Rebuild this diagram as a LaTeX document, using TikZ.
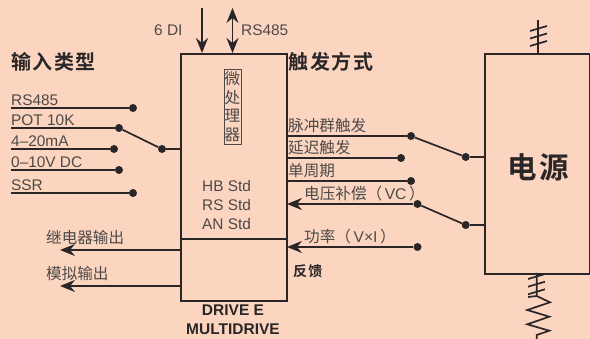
\documentclass[tikz,border=0pt]{standalone}
\usepackage{fontspec}
\setmainfont{Liberation Sans}
\newfontfamily\cjk{Noto Sans CJK SC}
\newfontfamily\cjkb[LetterSpace=8]{Noto Sans CJK SC Bold}
\usetikzlibrary{arrows.meta}
\definecolor{bgc}{HTML}{FBD5C0}
\definecolor{linec}{HTML}{2A2627}
\definecolor{textc}{HTML}{4D4947}
\tikzset{
 x=1pt,y=-1pt,
 wire/.style={draw=linec,line width=1.7pt},
 box/.style={draw=linec,line width=1.8pt,fill=none},
 dotn/.style={circle,fill=linec,inner sep=0pt,minimum size=8pt},
 lab/.style={text=textc,font=\fontsize{15.4}{17}\selectfont,inner sep=0pt,anchor=base west},
 clab/.style={text=textc,font=\fontsize{15.6}{17}\selectfont\cjk,inner sep=0pt,anchor=base west},
 head/.style={text=linec,font=\fontsize{20}{22}\selectfont\cjkb,inner sep=0pt,anchor=base west},
 bold/.style={text=linec,font=\fontsize{15.5}{17}\selectfont\bfseries,inner sep=0pt,anchor=base,align=center},
 arr/.style={wire,-{Stealth[length=15pt,width=12pt,inset=5pt]}},
 darr/.style={wire,{Stealth[length=15pt,width=12pt,inset=5pt]}-{Stealth[length=15pt,width=12pt,inset=5pt]}},
}
\begin{document}
\begin{tikzpicture}
\useasboundingbox[fill=bgc] (0,0) rectangle (590,339);
% blocks
\node[box,inner sep=0pt,anchor=north west,minimum width=106pt,minimum height=185pt] (cpu) at (180,53) {};
\node[box,inner sep=0pt,anchor=north west,minimum width=106pt,minimum height=62pt] (fb) at (180,238) {};
\node[box,inner sep=0pt,anchor=north west,minimum width=105pt,minimum height=220pt] (psu) at (484,53) {};
\node[draw=textc,line width=.7pt,inner sep=0pt,anchor=north west,minimum width=17pt,minimum height=75pt] (mcu) at (224,69.5) {};
\foreach \c [count=\i from 0] in {微,处,理,器}
  \node[clab,anchor=center] (m\i) at (232.5,78.5+18.7*\i) {\c};
% top arrows
\coordinate (diin) at (202,8);
\coordinate (rsin) at (232.5,8);
\coordinate (dic) at (202,53);
\coordinate (rsc) at (232.5,53);
\draw[arr] (diin) -- (dic);
\draw[darr] (rsin) -- (rsc);
\node[lab] (l6di) at (154,36) {6 DI};
\node[lab] (lrs) at (241,36) {RS485};
% headings
\node[head] (hin) at (11,70) {输入类型};
\node[head] (htr) at (288.5,70) {触发方式};
\node[head,font=\fontsize{29.5}{31}\selectfont\cjkb] (hp) at (507,178.5) {电源};
% inputs
\foreach \n/\t/\y/\dx in {a/RS485/108/133,b/POT 10K/128/119,c/4–20mA/149/114,d/0–10V DC/170/119,e/SSR/193/133}{
  \coordinate (s\n) at (11,\y);
  \node[dotn] (d\n) at (\dx,\y) {};
  \draw[wire] (s\n) -- (d\n);
  \node[lab] (l\n) at (11,\y-2.5) {\t};
}
\node[dotn] (sw1) at (162,149) {};
\draw[wire] (db) -- (sw1);
\draw[wire] (sw1) -- (sw1-|cpu.west);
% mode labels
\foreach \t [count=\i from 0] in {HB Std,RS Std,AN Std}
  \node[lab] (st\i) at (202,192+19*\i) {\t};
% outputs
\coordinate (o1) at (60,250);
\coordinate (o2) at (60,286);
\coordinate (oa) at (180,250);
\coordinate (ob) at (180,286);
\draw[arr] (oa) -- (o1);
\draw[arr] (ob) -- (o2);
\node[clab] (lo1) at (46,243.5) {继电器输出};
\node[clab] (lo2) at (46,279.5) {模拟输出};
% triggers
\coordinate (t1) at (286,136);
\coordinate (t2) at (286,158);
\coordinate (t3) at (286,181);
\coordinate (t4) at (287,204);
\coordinate (t5) at (287,247);
\node[dotn] (dt1) at (411,136) {};
\node[dotn] (dt2) at (401,158) {};
\node[dotn] (dt3) at (411,181) {};
\node[dotn] (dt4) at (417.5,204) {};
\node[dotn] (dt5) at (417.5,247) {};
\draw[wire] (t1) -- (dt1);
\draw[wire] (t2) -- (dt2);
\draw[wire] (t3) -- (dt3);
\draw[arr] (dt4) -- (t4);
\draw[arr] (dt5) -- (t5);
\node[clab] (lt1) at (288,131.5) {脉冲群触发};
\node[clab] (lt2) at (288,153.5) {延迟触发};
\node[clab] (lt3) at (288,176.5) {单周期};
\node[clab] (lt4) at (304,199.5) {电压补偿（{\rmfamily\,VC\,}）};
\node[clab] (lt5) at (304,242.5) {功率（{\rmfamily\,V×I\,}）};
\node[dotn] (sw2) at (465.7,157) {};
\node[dotn] (sw3) at (465.7,225) {};
\draw[wire] (dt1) -- (sw2);
\draw[wire] (dt4) -- (sw3);
\draw[wire] (sw2) -- (sw2-|psu.west);
\draw[wire] (sw3) -- (sw3-|psu.west);
% feedback
\node[head,font=\fontsize{14}{16}\selectfont\cjkb] (lfb) at (293,277) {反馈};
% drive name
\node[bold] (dr) at (233,315.5) {DRIVE E};
\node[bold] (mu) at (233,335) {MULTIDRIVE};
% mains top
\coordinate (ptop) at (538,20);
\coordinate (pc) at (538,53);
\draw[wire] (ptop) -- (pc);
\foreach \k/\y in {a/31,b/38.5,c/46}{
  \coordinate (ta\k) at (530,\y);
  \coordinate (tb\k) at (547,\y-5);
  \draw[wire] (ta\k) -- (tb\k);
}
% load bottom
\coordinate (pb) at (536.7,273);
\coordinate (pz) at (536.7,296);
\coordinate (pe) at (536.7,339);
\draw[wire] (pb) -- (pz) -- (550,302.3) -- (527.3,310) -- (549.3,316.7) -- (527.3,324.3) -- (549.3,330.7) -- (536.7,335) -- (pe);
\coordinate (stub) at (528,297);
\draw[wire] (stub) -- (pz);
\foreach \k/\y in {a/279,b/286.7,c/294.3}{
  \coordinate (ua\k) at (528,\y);
  \coordinate (ub\k) at (545,\y-5);
  \draw[wire] (ua\k) -- (ub\k);
}
\end{tikzpicture}
\end{document}
